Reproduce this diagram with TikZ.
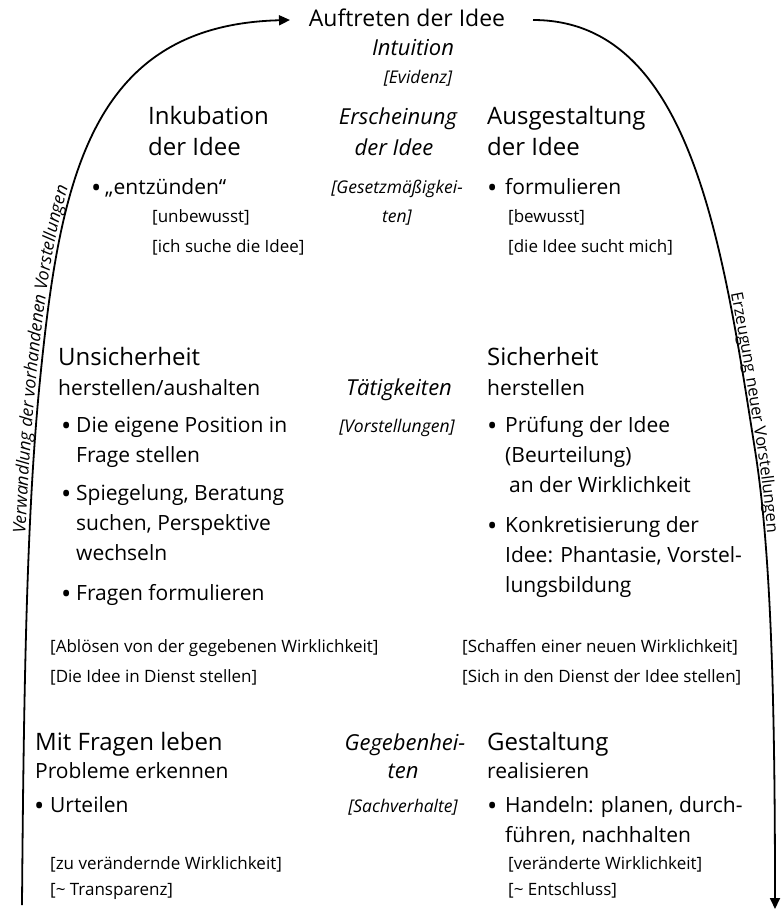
\documentclass[tikz,border=0pt]{standalone}
\usepackage{fontspec}
\setmainfont{Open Sans}
\usetikzlibrary{arrows.meta,decorations.text}
\newcommand{\bulletmark}{\raisebox{-3pt}{\scalebox{1.3}{•}}}
\begin{document}
\begin{tikzpicture}[x=1pt,y=-1pt,
  hd/.style={anchor=base west, inner sep=0pt, font=\fontsize{24}{24}\selectfont},
  bd/.style={anchor=base west, inner sep=0pt, font=\fontsize{21}{21}\selectfont},
  sm/.style={anchor=base west, inner sep=0pt, font=\fontsize{17}{17}\selectfont},
  ihd/.style={anchor=base, inner sep=0pt, font=\fontsize{22}{22}\selectfont\itshape},
  ism/.style={anchor=base, inner sep=0pt, font=\fontsize{17.5}{17.5}\selectfont\itshape},
  flow/.style={line width=1.8pt, -{Triangle[length=11pt,width=10pt]}},
]
\useasboundingbox[fill=white] (0,0) rectangle (780,910);

% top
\node[anchor=base, inner sep=0pt, font=\fontsize{23}{23}\selectfont] (title) at (407,26) {Auftreten der Idee};
\node[ihd] (intu) at (413,55) {Intuition};
\node[ism] (evid) at (418,83) {[Evidenz]};

% middle column
\node[ihd] (ersch) at (398,124) {Erscheinung};
\node[ihd] (ersch2) at (394,155) {der Idee};
\node[ism] (gesetz) at (397,193) {[Gesetzmäßigkei-};
\node[ism] (gesetz2) at (397,222) {ten]};
\node[ihd] (taet) at (399,395) {Tätigkeiten};
\node[ism] (vorst) at (397,432) {[Vorstellungen]};
\node[ihd] (geg) at (405,750) {Gegebenhei-};
\node[ihd] (geg2) at (403,778) {ten};
\node[ism] (sach) at (403,812) {[Sachverhalte]};

% left column
\node[hd] (ink) at (148,124) {Inkubation};
\node[hd] (ink2) at (148,155) {der Idee};
\node[bd] (bA) at (91,194) {\bulletmark};
\node[bd] (ent) at (105,194) {„entzünden“};
\node[sm] (unb) at (152,222) {[unbewusst]};
\node[sm] (ich) at (152,252) {[ich suche die Idee]};

\node[hd] (uns) at (58,365) {Unsicherheit};
\node[bd] (uns2) at (58,395) {herstellen/aushalten};
\node[bd] (bB) at (61,432) {\bulletmark};
\node[bd] (l1) at (76,432) {Die eigene Position in};
\node[bd] (l2) at (76,462) {Frage stellen};
\node[bd] (bC) at (61,500) {\bulletmark};
\node[bd] (l3) at (76,500) {Spiegelung, Beratung};
\node[bd] (l4) at (76,530) {suchen, Perspektive};
\node[bd] (l5) at (76,560) {wechseln};
\node[bd] (bD) at (61,600) {\bulletmark};
\node[bd] (l6) at (76,600) {Fragen formulieren};

\node[sm] (abl) at (50,652) {[Ablösen von der gegebenen Wirklichkeit]};
\node[sm] (dien) at (50,682) {[Die Idee in Dienst stellen]};

\node[hd] (mit) at (35,750) {Mit Fragen leben};
\node[bd] (prob) at (35,778) {Probleme erkennen};
\node[bd] (bE) at (34,812) {\bulletmark};
\node[bd] (urt) at (50,812) {Urteilen};
\node[sm] (zu) at (50,869) {[zu verändernde Wirklichkeit]};
\node[sm] (trans) at (50,895) {[\textasciitilde{} Transparenz]};

% right column
\node[hd] (aus) at (487,124) {Ausgestaltung};
\node[hd] (aus2) at (487,155) {der Idee};
\node[bd] (bF) at (487,194) {\bulletmark};
\node[bd] (form) at (505,194) {formulieren};
\node[sm] (bew) at (508,222) {[bewusst]};
\node[sm] (such) at (508,252) {[die Idee sucht mich]};

\node[hd] (sich) at (487,365) {Sicherheit};
\node[bd] (sich2) at (487,395) {herstellen};
\node[bd] (bG) at (487,432) {\bulletmark};
\node[bd] (r1) at (505,432) {Prüfung der Idee};
\node[bd] (r2) at (505,462) {(Beurteilung)};
\node[bd] (r3) at (509,492) {an der Wirklichkeit};
\node[bd] (bH) at (487,532) {\bulletmark};
\node[bd] (r4) at (505,532) {Konkretisierung der};
\node[bd] (r5) at (505,562) {Idee: Phantasie, Vorstel-};
\node[bd] (r6) at (505,592) {lungsbildung};

\node[sm] (schaf) at (462,652) {[Schaffen einer neuen Wirklichkeit]};
\node[sm] (sichd) at (462,682) {[Sich in den Dienst der Idee stellen]};

\node[hd] (gest) at (487,750) {Gestaltung};
\node[bd] (real) at (487,778) {realisieren};
\node[bd] (bI) at (487,812) {\bulletmark};
\node[bd] (h1) at (505,812) {Handeln: planen, durch-};
\node[bd] (h2) at (505,842) {führen, nachhalten};
\node[sm] (ver) at (508,869) {[veränderte Wirklichkeit]};
\node[sm] (ent2) at (508,895) {[\textasciitilde{} Entschluss]};

% curves
\coordinate (Lb) at (22,905);
\coordinate (Lt) at (290,20);
\coordinate (Rt) at (533,20);
\coordinate (Rb) at (775,909);
\draw[flow] (Lb) .. controls (24,650) and (28,500) .. (40,380)
  .. controls (60,180) and (90,25) .. (Lt);
\draw[flow] (Rt) .. controls (690,20) and (722,240) .. (755,450)
  .. controls (771,550) and (775,700) .. (Rb);

% labels along curves
\path[decorate, decoration={text along path, raise=4pt,
  text={|\fontsize{17.5}{17.5}\selectfont\itshape|Verwandlung der vorhandenen Vorstellungen}}]
  (29.46,533.9) .. controls (32.04,475.5) and (35.44,425.6) .. (40,380)
  .. controls (60,180) and (90,25) .. (280,20);
\path[decorate, decoration={text along path, raise=2.5pt,
  text={|\fontsize{16.5}{16.5}\selectfont|Erzeugung neuer Vorstellungen}}]
  (728.5,294.2) .. controls (738.6,344.4) and (746.8,397.5) .. (755,450)
  .. controls (771,550) and (775,700) .. (775,905);
\end{tikzpicture}
\end{document}
